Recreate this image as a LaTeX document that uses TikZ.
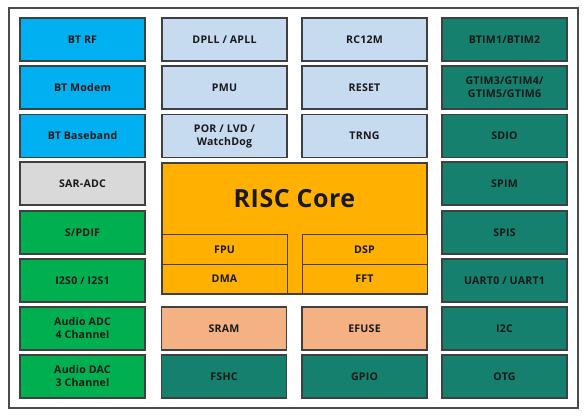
\documentclass[tikz,border=0pt]{standalone}
\usepackage{fontspec}
\setmainfont{Open Sans}[LetterSpace=2]
\begin{document}
\begin{tikzpicture}[x=1pt,y=-1pt,
  every node/.style={font=\bfseries\fontsize{10.6}{13}\selectfont, text=black!90, align=center, inner sep=0pt},
  blk/.style={draw=black!75, line width=1.3pt, minimum width=125pt, minimum height=43pt},
  sub/.style={draw=black!75, line width=0.8pt, minimum width=125pt, minimum height=29.5pt, fill=coreor},
  bt/.style={blk, fill=btblue},
  lb/.style={blk, fill=ltblue},
  gy/.style={blk, fill=adcgrey},
  gr/.style={blk, fill=audgreen},
  tl/.style={blk, fill=teal2},
  sa/.style={blk, fill=salmon},
]
\definecolor{btblue}{HTML}{00B0F0}
\definecolor{ltblue}{HTML}{C6DAF0}
\definecolor{adcgrey}{HTML}{D9D9D9}
\definecolor{audgreen}{HTML}{00B050}
\definecolor{teal2}{HTML}{16806E}
\definecolor{salmon}{HTML}{F4B183}
\definecolor{coreor}{HTML}{FFB000}
\useasboundingbox (0,0) rectangle (587,416);
\fill[white] (0,0) rectangle (587,416);
\draw[black!70, line width=1.5pt] (9,8) rectangle (578,408);
% column 1
\node[bt] (btrf) at (82.5,39.5) {BT RF};
\node[bt] (btmodem) at (82.5,87.5) {BT Modem};
\node[bt] (btbb) at (82.5,136) {BT Baseband};
\node[gy] (sar) at (82.5,183.5) {SAR-ADC};
\node[gr] (spdif) at (82.5,232.5) {S/PDIF};
\node[gr] (i2s) at (82.5,280.5) {I2S0 / I2S1};
\node[gr] (aadc) at (82.5,328.5) {Audio ADC\\4 Channel};
\node[gr] (adac) at (82.5,376.5) {Audio DAC\\3 Channel};
% column 2
\node[lb] (pll) at (224.5,39.5) {DPLL / APLL};
\node[lb] (pmu) at (224.5,87.5) {PMU};
\node[lb] (por) at (224.5,136) {POR / LVD /\\WatchDog};
\node[sa] (sram) at (224,328.5) {SRAM};
\node[tl] (fshc) at (224,376.5) {FSHC};
% column 3
\node[lb] (rc) at (364.5,39.5) {RC12M};
\node[lb] (reset) at (364.5,87.5) {RESET};
\node[lb] (trng) at (364.5,136) {TRNG};
\node[sa] (efuse) at (364.5,328.5) {EFUSE};
\node[tl] (gpio) at (364.5,376.5) {GPIO};
% column 4
\node[tl] (btim) at (504.5,39.5) {BTIM1/BTIM2};
\node[tl] (gtim) at (504.5,87.5) {GTIM3/GTIM4/\\GTIM5/GTIM6};
\node[tl] (sdio) at (504.5,136) {SDIO};
\node[tl] (spim) at (504.5,183.5) {SPIM};
\node[tl] (spis) at (504.5,232.5) {SPIS};
\node[tl] (uart) at (504.5,280.5) {UART0 / UART1};
\node[tl] (i2c) at (504.5,328.5) {I2C};
\node[tl] (otg) at (504.5,376.5) {OTG};
% core
\node[blk, fill=coreor, minimum width=265pt, minimum height=131pt] (core) at (294.5,228.5) {};
\node[font=\bfseries\fontsize{25}{28}\selectfont] (coretxt) at (294.5,199) {RISC Core};
\node[sub] (fpu) at (224.5,249.5) {FPU};
\node[sub] (dma) at (224.5,279) {DMA};
\node[sub] (dsp) at (364.5,249.5) {DSP};
\node[sub] (fft) at (364.5,279) {FFT};
\draw[black!75, line width=1.3pt] (core.north west) rectangle (core.south east);
\end{tikzpicture}
\end{document}
